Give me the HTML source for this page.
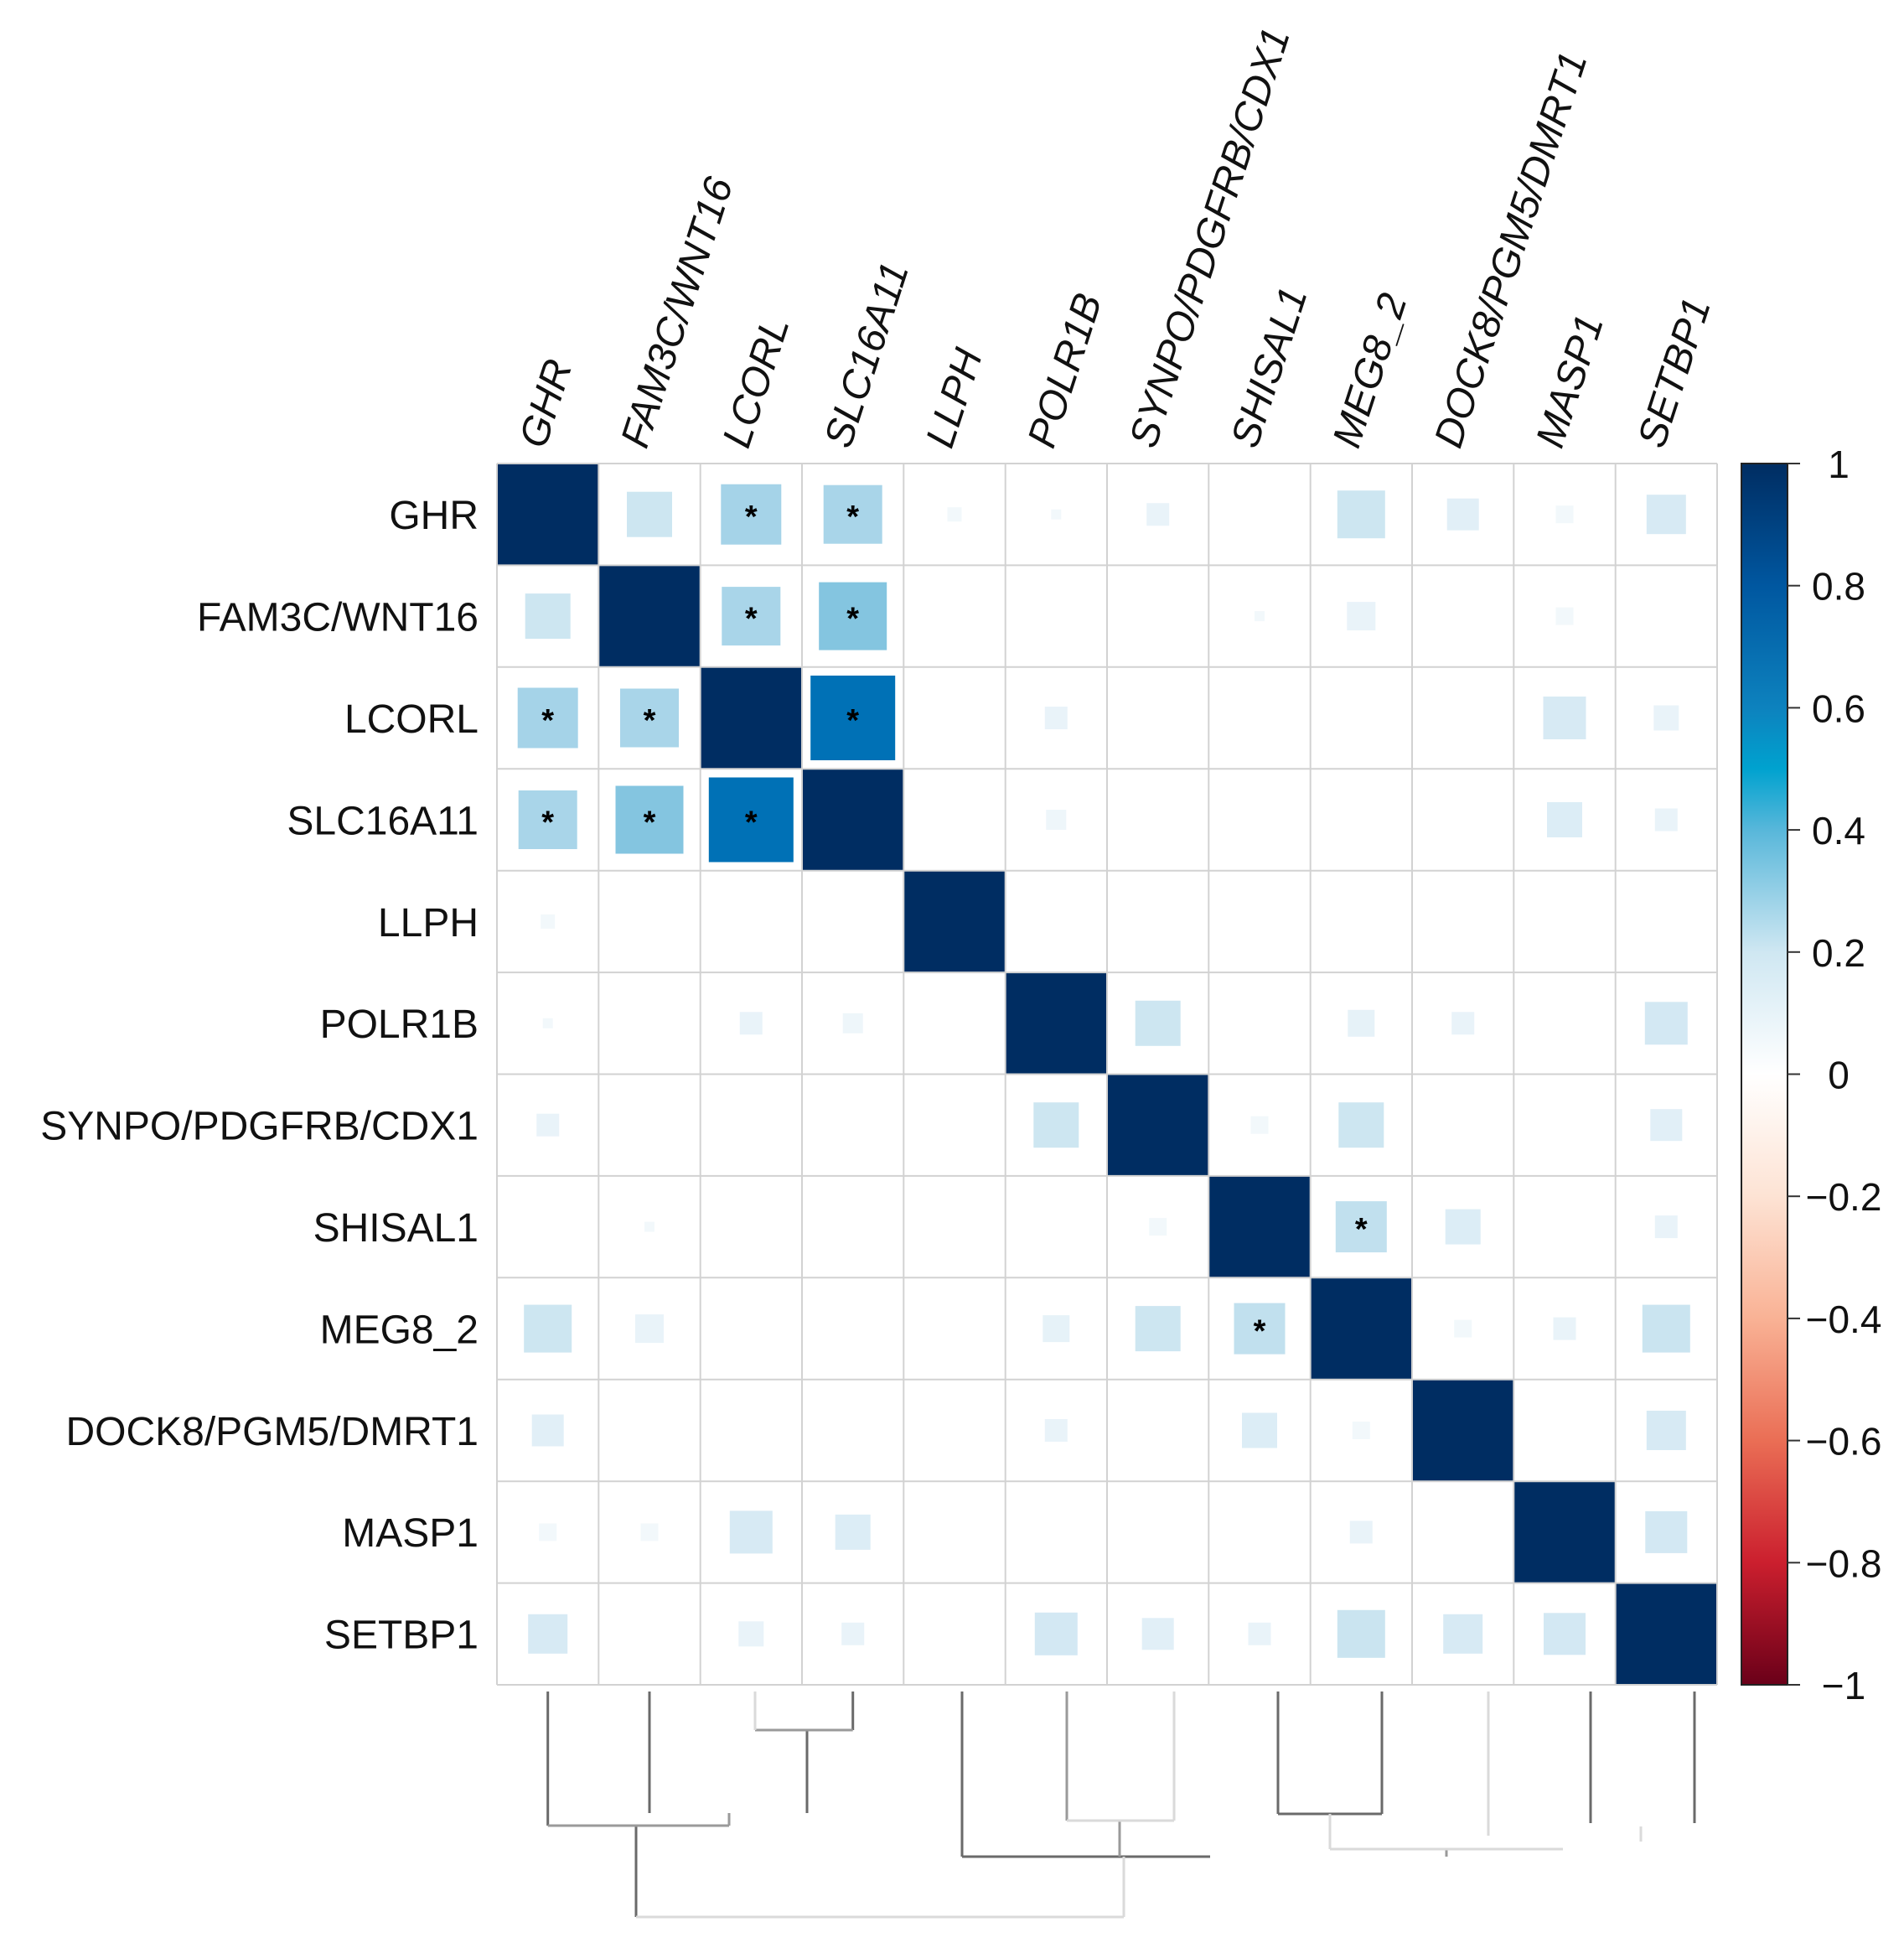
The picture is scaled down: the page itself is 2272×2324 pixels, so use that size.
<!DOCTYPE html>
<html><head><meta charset="utf-8">
<style>html,body{margin:0;padding:0;background:#fff;}svg{display:block;}</style>
</head><body>
<svg width="2272" height="2324" viewBox="0 0 2272 2324" xmlns="http://www.w3.org/2000/svg" font-family="Liberation Sans, Arial, sans-serif">
<defs>
<linearGradient id="cb" x1="0" y1="0" x2="0" y2="1">
<stop offset="0" stop-color="#002d62"/>
<stop offset="0.1" stop-color="#0057a0"/>
<stop offset="0.2" stop-color="#0d82be"/>
<stop offset="0.25" stop-color="#00a2cf"/>
<stop offset="0.3" stop-color="#58b7da"/>
<stop offset="0.4" stop-color="#cfe7f2"/>
<stop offset="0.5" stop-color="#ffffff"/>
<stop offset="0.6" stop-color="#fde3d4"/>
<stop offset="0.7" stop-color="#f9b295"/>
<stop offset="0.8" stop-color="#ea6e55"/>
<stop offset="0.9" stop-color="#cb1f2e"/>
<stop offset="1" stop-color="#6a0019"/>
</linearGradient>
</defs>
<rect width="2272" height="2324" fill="#fff"/>
<g fill="#002d62">
<rect x="593" y="553" width="121.4" height="121.4"/>
<rect x="714.3" y="674.4" width="121.4" height="121.4"/>
<rect x="835.7" y="795.8" width="121.4" height="121.4"/>
<rect x="957" y="917.3" width="121.4" height="121.4"/>
<rect x="1078.3" y="1038.7" width="121.4" height="121.4"/>
<rect x="1199.7" y="1160.1" width="121.4" height="121.4"/>
<rect x="1321" y="1281.5" width="121.4" height="121.4"/>
<rect x="1442.3" y="1402.9" width="121.4" height="121.4"/>
<rect x="1563.7" y="1524.3" width="121.4" height="121.4"/>
<rect x="1685" y="1645.8" width="121.4" height="121.4"/>
<rect x="1806.3" y="1767.2" width="121.4" height="121.4"/>
<rect x="1927.7" y="1888.6" width="121.4" height="121.4"/>
</g>
<g>
<rect transform="translate(775 613.7)" x="-27" y="-27" width="54" height="54" fill="#cde6f1"/>
<rect transform="translate(653.7 735.1)" x="-27" y="-27" width="54" height="54" fill="#cde6f1"/>
<rect transform="translate(896.3 613.7)" x="-36" y="-36" width="72" height="72" fill="#a5d3e8"/>
<rect transform="translate(653.7 856.5)" x="-36" y="-36" width="72" height="72" fill="#a5d3e8"/>
<rect transform="translate(1017.7 613.7)" x="-35" y="-35" width="70" height="70" fill="#a9d5e9"/>
<rect transform="translate(653.7 978)" x="-35" y="-35" width="70" height="70" fill="#a9d5e9"/>
<rect transform="translate(1139 613.7)" x="-8.5" y="-8.5" width="17" height="17" fill="#f2f8fb"/>
<rect transform="translate(653.7 1099.4)" x="-8.5" y="-8.5" width="17" height="17" fill="#f2f8fb"/>
<rect transform="translate(1260.3 613.7)" x="-6" y="-6" width="12" height="12" fill="#f2f8fb"/>
<rect transform="translate(653.7 1220.8)" x="-6" y="-6" width="12" height="12" fill="#f2f8fb"/>
<rect transform="translate(1381.7 613.7)" x="-13.5" y="-13.5" width="27" height="27" fill="#e9f3f9"/>
<rect transform="translate(653.7 1342.2)" x="-13.5" y="-13.5" width="27" height="27" fill="#e9f3f9"/>
<rect transform="translate(1624.3 613.7)" x="-28.5" y="-28.5" width="57" height="57" fill="#cde6f1"/>
<rect transform="translate(653.7 1585.1)" x="-28.5" y="-28.5" width="57" height="57" fill="#cde6f1"/>
<rect transform="translate(1745.7 613.7)" x="-19" y="-19" width="38" height="38" fill="#e1eff7"/>
<rect transform="translate(653.7 1706.5)" x="-19" y="-19" width="38" height="38" fill="#e1eff7"/>
<rect transform="translate(1867 613.7)" x="-10.5" y="-10.5" width="21" height="21" fill="#f2f8fb"/>
<rect transform="translate(653.7 1827.9)" x="-10.5" y="-10.5" width="21" height="21" fill="#f2f8fb"/>
<rect transform="translate(1988.3 613.7)" x="-23.5" y="-23.5" width="47" height="47" fill="#d7eaf4"/>
<rect transform="translate(653.7 1949.3)" x="-23.5" y="-23.5" width="47" height="47" fill="#d7eaf4"/>
<rect transform="translate(896.3 735.1)" x="-35" y="-35" width="70" height="70" fill="#a9d5e9"/>
<rect transform="translate(775 856.5)" x="-35" y="-35" width="70" height="70" fill="#a9d5e9"/>
<rect transform="translate(1017.7 735.1)" x="-40.5" y="-40.5" width="81" height="81" fill="#84c5e0"/>
<rect transform="translate(775 978)" x="-40.5" y="-40.5" width="81" height="81" fill="#84c5e0"/>
<rect transform="translate(1503 735.1)" x="-6" y="-6" width="12" height="12" fill="#f2f8fb"/>
<rect transform="translate(775 1463.6)" x="-6" y="-6" width="12" height="12" fill="#f2f8fb"/>
<rect transform="translate(1624.3 735.1)" x="-17" y="-17" width="34" height="34" fill="#e9f3f9"/>
<rect transform="translate(775 1585.1)" x="-17" y="-17" width="34" height="34" fill="#e9f3f9"/>
<rect transform="translate(1867 735.1)" x="-10.5" y="-10.5" width="21" height="21" fill="#f2f8fb"/>
<rect transform="translate(775 1827.9)" x="-10.5" y="-10.5" width="21" height="21" fill="#f2f8fb"/>
<rect transform="translate(1017.7 856.5)" x="-50.5" y="-50.5" width="101" height="101" fill="#0071b6"/>
<rect transform="translate(896.3 978)" x="-50.5" y="-50.5" width="101" height="101" fill="#0071b6"/>
<rect transform="translate(1260.3 856.5)" x="-13.5" y="-13.5" width="27" height="27" fill="#e9f3f9"/>
<rect transform="translate(896.3 1220.8)" x="-13.5" y="-13.5" width="27" height="27" fill="#e9f3f9"/>
<rect transform="translate(1867 856.5)" x="-25.5" y="-25.5" width="51" height="51" fill="#d7eaf4"/>
<rect transform="translate(896.3 1827.9)" x="-25.5" y="-25.5" width="51" height="51" fill="#d7eaf4"/>
<rect transform="translate(1988.3 856.5)" x="-15" y="-15" width="30" height="30" fill="#e9f3f9"/>
<rect transform="translate(896.3 1949.3)" x="-15" y="-15" width="30" height="30" fill="#e9f3f9"/>
<rect transform="translate(1260.3 978)" x="-12" y="-12" width="24" height="24" fill="#eef6fa"/>
<rect transform="translate(1017.7 1220.8)" x="-12" y="-12" width="24" height="24" fill="#eef6fa"/>
<rect transform="translate(1867 978)" x="-21" y="-21" width="42" height="42" fill="#dcedf6"/>
<rect transform="translate(1017.7 1827.9)" x="-21" y="-21" width="42" height="42" fill="#dcedf6"/>
<rect transform="translate(1988.3 978)" x="-13.5" y="-13.5" width="27" height="27" fill="#e9f3f9"/>
<rect transform="translate(1017.7 1949.3)" x="-13.5" y="-13.5" width="27" height="27" fill="#e9f3f9"/>
<rect transform="translate(1381.7 1220.8)" x="-27" y="-27" width="54" height="54" fill="#cde6f1"/>
<rect transform="translate(1260.3 1342.2)" x="-27" y="-27" width="54" height="54" fill="#cde6f1"/>
<rect transform="translate(1624.3 1220.8)" x="-16" y="-16" width="32" height="32" fill="#e6f2f8"/>
<rect transform="translate(1260.3 1585.1)" x="-16" y="-16" width="32" height="32" fill="#e6f2f8"/>
<rect transform="translate(1745.7 1220.8)" x="-13.5" y="-13.5" width="27" height="27" fill="#e9f3f9"/>
<rect transform="translate(1260.3 1706.5)" x="-13.5" y="-13.5" width="27" height="27" fill="#e9f3f9"/>
<rect transform="translate(1988.3 1220.8)" x="-25.5" y="-25.5" width="51" height="51" fill="#d3e8f3"/>
<rect transform="translate(1260.3 1949.3)" x="-25.5" y="-25.5" width="51" height="51" fill="#d3e8f3"/>
<rect transform="translate(1503 1342.2)" x="-10.5" y="-10.5" width="21" height="21" fill="#f2f8fb"/>
<rect transform="translate(1381.7 1463.6)" x="-10.5" y="-10.5" width="21" height="21" fill="#f2f8fb"/>
<rect transform="translate(1624.3 1342.2)" x="-27" y="-27" width="54" height="54" fill="#cde6f1"/>
<rect transform="translate(1381.7 1585.1)" x="-27" y="-27" width="54" height="54" fill="#cde6f1"/>
<rect transform="translate(1988.3 1342.2)" x="-19" y="-19" width="38" height="38" fill="#e1eff7"/>
<rect transform="translate(1381.7 1949.3)" x="-19" y="-19" width="38" height="38" fill="#e1eff7"/>
<rect transform="translate(1624.3 1463.6)" x="-30.5" y="-30.5" width="61" height="61" fill="#c1e0ee"/>
<rect transform="translate(1503 1585.1)" x="-30.5" y="-30.5" width="61" height="61" fill="#c1e0ee"/>
<rect transform="translate(1745.7 1463.6)" x="-21" y="-21" width="42" height="42" fill="#dcedf6"/>
<rect transform="translate(1503 1706.5)" x="-21" y="-21" width="42" height="42" fill="#dcedf6"/>
<rect transform="translate(1988.3 1463.6)" x="-13.5" y="-13.5" width="27" height="27" fill="#e9f3f9"/>
<rect transform="translate(1503 1949.3)" x="-13.5" y="-13.5" width="27" height="27" fill="#e9f3f9"/>
<rect transform="translate(1745.7 1585.1)" x="-10.5" y="-10.5" width="21" height="21" fill="#f2f8fb"/>
<rect transform="translate(1624.3 1706.5)" x="-10.5" y="-10.5" width="21" height="21" fill="#f2f8fb"/>
<rect transform="translate(1867 1585.1)" x="-13.5" y="-13.5" width="27" height="27" fill="#e9f3f9"/>
<rect transform="translate(1624.3 1827.9)" x="-13.5" y="-13.5" width="27" height="27" fill="#e9f3f9"/>
<rect transform="translate(1988.3 1585.1)" x="-28.5" y="-28.5" width="57" height="57" fill="#cae4f0"/>
<rect transform="translate(1624.3 1949.3)" x="-28.5" y="-28.5" width="57" height="57" fill="#cae4f0"/>
<rect transform="translate(1988.3 1706.5)" x="-23.5" y="-23.5" width="47" height="47" fill="#d7eaf4"/>
<rect transform="translate(1745.7 1949.3)" x="-23.5" y="-23.5" width="47" height="47" fill="#d7eaf4"/>
<rect transform="translate(1988.3 1827.9)" x="-25" y="-25" width="50" height="50" fill="#d3e8f3"/>
<rect transform="translate(1867 1949.3)" x="-25" y="-25" width="50" height="50" fill="#d3e8f3"/>
</g>
<g font-size="38" font-weight="bold" text-anchor="middle" fill="#000">
<text x="896.3" y="629">*</text><text x="1017.7" y="629">*</text>
<text x="896.3" y="750.4">*</text><text x="1017.7" y="750.4">*</text>
<text x="653.7" y="871.8">*</text><text x="775" y="871.8">*</text><text x="1017.7" y="871.8">*</text>
<text x="653.7" y="993.3">*</text><text x="775" y="993.3">*</text><text x="896.3" y="993.3">*</text>
<text x="1624.3" y="1478.9">*</text><text x="1503" y="1600.4">*</text>
</g>
<g stroke="#d2d2d2" stroke-width="2">
<line x1="593" y1="553" x2="593" y2="2010"/><line x1="714.3" y1="553" x2="714.3" y2="2010"/>
<line x1="835.7" y1="553" x2="835.7" y2="2010"/><line x1="957" y1="553" x2="957" y2="2010"/>
<line x1="1078.3" y1="553" x2="1078.3" y2="2010"/><line x1="1199.7" y1="553" x2="1199.7" y2="2010"/>
<line x1="1321" y1="553" x2="1321" y2="2010"/><line x1="1442.3" y1="553" x2="1442.3" y2="2010"/>
<line x1="1563.7" y1="553" x2="1563.7" y2="2010"/><line x1="1685" y1="553" x2="1685" y2="2010"/>
<line x1="1806.3" y1="553" x2="1806.3" y2="2010"/><line x1="1927.7" y1="553" x2="1927.7" y2="2010"/>
<line x1="2049" y1="553" x2="2049" y2="2010"/>
<line x1="593" y1="553" x2="2049" y2="553"/><line x1="593" y1="674.4" x2="2049" y2="674.4"/>
<line x1="593" y1="795.8" x2="2049" y2="795.8"/><line x1="593" y1="917.3" x2="2049" y2="917.3"/>
<line x1="593" y1="1038.7" x2="2049" y2="1038.7"/><line x1="593" y1="1160.1" x2="2049" y2="1160.1"/>
<line x1="593" y1="1281.5" x2="2049" y2="1281.5"/><line x1="593" y1="1402.9" x2="2049" y2="1402.9"/>
<line x1="593" y1="1524.3" x2="2049" y2="1524.3"/><line x1="593" y1="1645.8" x2="2049" y2="1645.8"/>
<line x1="593" y1="1767.2" x2="2049" y2="1767.2"/><line x1="593" y1="1888.6" x2="2049" y2="1888.6"/>
<line x1="593" y1="2010" x2="2049" y2="2010"/>
</g>
<g font-size="48" text-anchor="end" fill="#111">
<text x="571" y="631">GHR</text>
<text x="571" y="752.5">FAM3C/WNT16</text>
<text x="571" y="874">LCORL</text>
<text x="571" y="995.5">SLC16A11</text>
<text x="571" y="1117">LLPH</text>
<text x="571" y="1238">POLR1B</text>
<text x="571" y="1359.5">SYNPO/PDGFRB/CDX1</text>
<text x="571" y="1481">SHISAL1</text>
<text x="571" y="1602.5">MEG8_2</text>
<text x="571" y="1724">DOCK8/PGM5/DMRT1</text>
<text x="571" y="1845">MASP1</text>
<text x="571" y="1966.5">SETBP1</text>
</g>
<g font-size="48" font-style="italic" fill="#111">
<text transform="translate(650 537) rotate(-72)">GHR</text>
<text transform="translate(771.3 537) rotate(-72)">FAM3C/WNT16</text>
<text transform="translate(892.6 537) rotate(-72)">LCORL</text>
<text transform="translate(1014 537) rotate(-72)">SLC16A11</text>
<text transform="translate(1135.3 537) rotate(-72)">LLPH</text>
<text transform="translate(1256.6 537) rotate(-72)">POLR1B</text>
<text transform="translate(1378 537) rotate(-72)">SYNPO/PDGFRB/CDX1</text>
<text transform="translate(1499.3 537) rotate(-72)">SHISAL1</text>
<text transform="translate(1620.6 537) rotate(-72)">MEG8_2</text>
<text transform="translate(1742 537) rotate(-72)">DOCK8/PGM5/DMRT1</text>
<text transform="translate(1863.3 537) rotate(-72)">MASP1</text>
<text transform="translate(1984.6 537) rotate(-72)">SETBP1</text>
</g>
<rect x="2078" y="553" width="55" height="1457" fill="url(#cb)" stroke="#222" stroke-width="2"/>
<g stroke="#333" stroke-width="2">
<line x1="2133" y1="553" x2="2148" y2="553"/><line x1="2133" y1="698.7" x2="2148" y2="698.7"/>
<line x1="2133" y1="844.4" x2="2148" y2="844.4"/><line x1="2133" y1="990.1" x2="2148" y2="990.1"/>
<line x1="2133" y1="1135.8" x2="2148" y2="1135.8"/><line x1="2133" y1="1281.5" x2="2148" y2="1281.5"/>
<line x1="2133" y1="1427.2" x2="2148" y2="1427.2"/><line x1="2133" y1="1572.9" x2="2148" y2="1572.9"/>
<line x1="2133" y1="1718.6" x2="2148" y2="1718.6"/><line x1="2133" y1="1864.3" x2="2148" y2="1864.3"/>
<line x1="2133" y1="2010" x2="2148" y2="2010"/>
</g>
<g font-size="46" text-anchor="middle" fill="#111">
<text x="2194" y="570">1</text>
<text x="2194" y="715.7">0.8</text>
<text x="2194" y="861.4">0.6</text>
<text x="2194" y="1007.1">0.4</text>
<text x="2194" y="1152.8">0.2</text>
<text x="2194" y="1298.5">0</text>
<text x="2200" y="1444.2">−0.2</text>
<text x="2200" y="1589.9">−0.4</text>
<text x="2200" y="1735.6">−0.6</text>
<text x="2200" y="1881.3">−0.8</text>
<text x="2200" y="2027">−1</text>
</g>
<g stroke-width="3" fill="none">
<g stroke="#6a6a6a">
<line x1="653.7" y1="2018" x2="653.7" y2="2178"/>
<line x1="775" y1="2018" x2="775" y2="2163"/>
<line x1="1017.7" y1="2018" x2="1017.7" y2="2064"/>
<line x1="963" y1="2064" x2="963" y2="2163"/>
<line x1="759" y1="2178" x2="759" y2="2287"/>
<line x1="1148" y1="2018" x2="1148" y2="2215"/>
<line x1="1148" y1="2215" x2="1444" y2="2215"/>
<line x1="1525" y1="2018" x2="1525" y2="2164"/>
<line x1="1649" y1="2018" x2="1649" y2="2164"/>
<line x1="1525" y1="2164" x2="1649" y2="2164"/>
<line x1="1898" y1="2018" x2="1898" y2="2175"/>
<line x1="2022" y1="2018" x2="2022" y2="2175"/>
</g>
<g stroke="#9a9a9a">
<line x1="653.7" y1="2178" x2="870" y2="2178"/>
<line x1="870" y1="2163" x2="870" y2="2178"/>
<line x1="901" y1="2064" x2="1017.7" y2="2064"/>
<line x1="1273" y1="2018" x2="1273" y2="2172"/>
<line x1="1336" y1="2172" x2="1336" y2="2215"/>
<line x1="1726" y1="2206" x2="1726" y2="2215"/>
</g>
<g stroke="#dadada">
<line x1="901" y1="2018" x2="901" y2="2064"/>
<line x1="759" y1="2287" x2="1341" y2="2287"/>
<line x1="1341" y1="2215" x2="1341" y2="2287"/>
<line x1="1401" y1="2018" x2="1401" y2="2172"/>
<line x1="1273" y1="2172" x2="1401" y2="2172"/>
<line x1="1587" y1="2164" x2="1587" y2="2206"/>
<line x1="1587" y1="2206" x2="1865" y2="2206"/>
<line x1="1776" y1="2018" x2="1776" y2="2190"/>
<line x1="1958" y1="2179" x2="1958" y2="2197"/>
</g>
</g>
</svg>
</body></html>
